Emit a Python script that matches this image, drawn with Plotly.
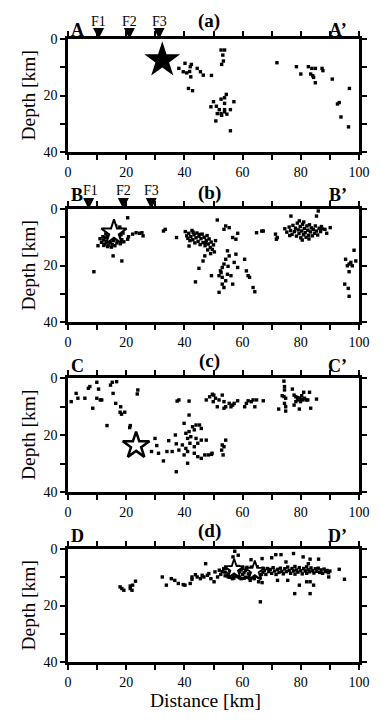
import plotly.graph_objects as go

# ---------------- data (distance km, depth km) ----------------
a_points = [(38.1,10.4),(39.6,11.6),(40.8,12.0),(41.8,11.5),(42.0,9.8),(42.4,9.0),(40.2,8.6),
            (42.2,13.4),(44.4,10.4),(45.5,11.6),(46.5,12.8),(49.3,12.9),(41.4,17.5),(42.8,18.3),
            (52.6,3.9),(53.8,3.9),(53.2,5.7),(53.4,7.8),(52.8,9.0),
            (54.4,19.6),(53.8,20.8),(52.6,21.3),(53.8,22.8),(57.0,22.2),(50.0,22.2),(51.0,23.8),
            (49.1,24.0),(52.0,25.0),(53.8,25.0),(55.8,25.0),(51.3,26.4),(52.6,26.4),(53.8,25.8),
            (52.8,27.0),(54.6,26.6),(50.8,29.0),(55.8,32.5),
            (71.8,8.4),(78.5,9.8),(80.0,12.4),(82.6,9.8),(83.8,10.4),(85.0,10.4),(83.4,12.4),
            (84.1,13.0),(84.4,13.6),(85.0,15.5),(87.3,10.4),(87.6,11.2),(90.8,14.2),(96.7,17.5),
            (92.6,23.0),(93.2,22.5),(93.8,27.6),(96.4,31.1)]
a_stars = [(32.4,7.5)]

b_points = [(11.0,10.5),(11.5,11.8),(12.0,9.8),(12.2,11.0),(12.6,12.4),(12.8,10.2),(13.0,8.8),
            (13.3,11.5),(13.5,9.6),(13.8,12.8),(14.0,10.8),(14.2,8.2),(14.5,11.9),(14.7,9.3),
            (15.0,10.4),(15.2,12.6),(15.4,7.6),(15.6,11.2),(15.9,9.0),(16.1,13.0),(16.3,10.6),
            (16.5,8.4),(16.8,12.0),(17.0,9.8),(17.2,11.4),(17.5,7.9),(17.7,10.2),(18.0,12.3),
            (18.2,9.1),(18.5,10.9),(18.9,8.5),(19.2,11.6),(13.6,13.3),(14.9,13.5),(16.4,6.0),
            (17.8,6.4),(10.3,13.0),(12.3,12.9),
            (20.5,10.7),(20.8,9.8),(22.2,8.9),(23.4,8.4),(24.6,8.6),(25.4,8.4),(25.8,9.5),
            (20.5,3.1),(15.5,16.6),(18.5,18.4),(8.9,22.2),(32.8,7.8),(33.4,7.2),(37.3,10.1),
            (40.3,8.0),(40.8,9.5),(41.2,10.4),(41.5,8.6),(41.9,11.2),(42.2,9.8),(42.6,7.6),
            (42.9,10.9),(43.3,9.1),(43.6,12.0),(44.0,10.2),(44.3,8.5),(44.7,11.5),(45.0,9.6),
            (45.4,12.6),(45.7,10.5),(46.1,8.9),(46.4,11.9),(46.8,10.0),(47.1,13.0),(47.5,11.1),
            (47.8,9.4),(48.2,12.4),(48.5,10.6),(48.9,13.6),(49.2,11.7),(49.6,14.3),(50.0,12.7),
            (50.3,15.2),(49.0,15.8),(48.0,14.5),(43.0,8.2),(45.2,9.0),(47.3,12.0),(50.7,11.2),
            (47.0,16.6),(46.4,18.4),(45.0,21.0),(43.8,25.8),(49.3,23.6),(41.6,13.1),
            (51.3,3.9),(54.2,6.0),(55.4,6.6),(53.6,7.2),(56.6,10.1),(57.7,10.7),(58.3,8.6),
            (54.8,14.8),(55.4,16.6),(57.7,16.0),(54.2,17.8),(53.6,19.5),(53.0,20.7),(52.4,21.9),
            (57.1,18.9),(58.3,20.7),(60.7,17.8),(61.3,21.9),(61.9,23.6),(62.4,24.2),(51.9,23.6),
            (53.0,24.2),(54.8,23.1),(56.0,23.6),(54.2,25.4),(53.0,26.6),(56.6,26.6),(53.6,27.8),
            (51.9,29.5),(63.6,27.8),(64.2,29.3),(52.6,22.5),(55.0,20.3),
            (64.8,8.4),(66.6,7.8),(67.1,7.8),(71.3,8.9),(71.9,10.1),(71.6,10.7),
            (74.5,7.0),(75.2,8.2),(76.0,6.4),(76.5,7.6),(77.0,9.0),(77.3,5.8),(77.8,8.0),
            (78.2,6.8),(78.5,9.6),(78.8,5.0),(79.1,7.4),(79.4,8.7),(79.8,6.2),(80.0,10.2),
            (80.3,7.8),(80.6,5.4),(80.9,9.1),(81.2,6.9),(81.5,8.4),(81.8,10.0),(82.1,6.0),
            (82.4,7.5),(82.7,9.3),(83.0,5.6),(83.3,8.1),(83.6,6.7),(84.0,9.5),(84.3,7.2),
            (84.7,8.6),(85.0,6.0),(85.4,7.8),(85.8,9.2),(86.3,6.8),(86.8,8.0),(87.3,7.0),
            (79.5,4.2),(81.0,4.6),(76.2,9.4),(82.8,10.6),(80.5,11.0),
            (76.6,2.5),(85.4,2.5),(86.0,0.7),(87.1,6.2),(88.3,7.2),(90.1,6.6),(88.9,8.6),
            (98.3,14.6),(95.4,17.8),(96.6,19.5),(97.7,20.1),(98.9,18.4),(96.0,20.1),(97.2,18.9),
            (96.6,22.2),(95.1,26.6),(96.3,28.1),(96.6,30.9)]
b_stars = [(15.8,8.4)]

c_points = [(1.1,8.3),(2.8,5.4),(3.4,7.1),(5.8,7.1),(7.0,3.6),(7.5,3.0),(9.9,1.5),(10.5,3.9),
            (9.9,7.1),(11.1,7.7),(11.6,7.7),(8.5,10.6),(14.6,2.5),(15.2,1.5),(16.7,1.3),
            (15.5,5.4),(16.4,8.9),(18.1,10.1),(17.9,12.0),(18.4,12.7),(19.5,12.0),(13.4,16.7),
            (21.4,16.7),(21.2,17.4),(24.0,4.2),(23.8,5.6),
            (29.9,21.2),(28.7,25.8),(30.5,23.7),(31.1,26.4),(32.8,29.1),(34.0,25.8),(34.6,22.0),
            (35.8,25.8),(36.9,20.0),(37.2,23.1),(38.1,25.3),(37.5,8.1),(38.1,7.7),(41.6,8.1),
            (39.9,15.9),(41.6,13.0),(40.5,19.4),(41.6,18.8),(42.8,17.1),(44.0,16.5),(45.2,16.5),
            (43.4,18.2),(45.8,17.7),(41.1,21.2),(42.2,20.6),(44.0,21.2),(39.3,23.5),(40.5,24.7),
            (41.9,22.9),(43.4,24.1),(44.6,22.9),(45.8,21.8),(39.9,27.0),(41.1,25.8),(43.4,26.4),
            (44.6,27.6),(45.8,28.2),(41.1,29.9),(37.2,32.9),(47.0,27.0),(48.2,27.0),(49.3,26.8),
            (47.5,21.8),(47.5,7.7),(48.7,6.6),(49.9,8.3),(49.6,5.7),
            (50.1,6.0),(50.7,7.1),(51.3,10.1),(51.9,7.7),(53.0,6.0),(53.6,8.3),(53.6,10.6),
            (54.2,10.1),(55.4,8.9),(56.0,10.1),(56.6,9.5),(57.1,8.9),(58.3,8.0),(60.7,10.1),
            (61.3,8.9),(61.9,8.0),(63.0,8.3),(63.6,7.7),(64.2,10.1),(64.8,7.7),(67.1,8.0),
            (72.4,10.9),(74.2,1.1),(74.4,3.0),(74.4,4.2),(74.2,6.5),(73.6,6.2),(74.8,7.1),
            (74.4,8.9),(74.8,10.1),(74.8,11.6),(77.1,3.9),(77.7,6.0),(78.3,6.6),(78.9,6.9),
            (79.5,7.1),(80.1,7.4),(80.7,7.7),(81.3,7.1),(81.9,7.7),(78.9,7.7),(77.7,9.5),
            (79.5,10.9),(81.0,5.0),(83.0,5.0),(82.4,7.7),(83.4,10.6),(85.4,7.4),(78.3,8.3),
            (80.3,6.2),(79.9,8.3),
            (54.2,21.8),(53.0,23.5),(53.6,24.1),(52.8,25.3),(53.3,27.0),(49.5,26.4)]
c_stars = [(23.4,23.7)]

d_points = [(17.9,13.4),(18.5,14.0),(19.2,14.6),(21.4,14.0),(22.0,14.6),(21.4,13.1),(23.2,11.4),
            (22.2,12.8),(32.4,9.9),(33.8,12.8),(35.5,10.5),(36.7,11.1),(37.9,12.2),(39.6,12.6),
            (40.2,12.8),(42.0,12.2),(42.6,9.9),(42.6,10.7),(43.8,9.1),(44.4,9.9),(45.5,10.5),
            (46.1,9.3),(46.7,9.9),(47.3,5.2),(47.9,9.3),(48.4,8.7),(49.1,10.5),(50.2,11.6),
            (50.5,8.1),(51.4,9.9),
            (52.0,7.5),(52.5,9.0),(53.0,8.0),(53.5,7.0),(54.0,9.5),(54.0,8.2),(54.5,6.8),
            (55.0,8.8),(55.5,7.6),(55.5,10.0),(56.0,6.5),(56.0,9.2),(56.5,8.0),(57.0,5.8),
            (57.0,10.3),(57.5,8.6),(58.0,7.0),(58.0,9.6),(58.5,6.2),(59.0,8.1),(59.0,10.2),
            (59.5,7.3),(60.0,9.0),(60.0,6.8),(60.5,8.4),(61.0,7.6),(61.0,10.0),(61.5,6.5),
            (62.0,8.8),(62.0,7.2),(62.5,9.6),(63.0,6.4),(63.0,8.1),(63.5,10.2),(64.0,7.0),
            (64.5,9.2),(65.0,6.3),(65.0,8.5),(65.5,10.0),(66.0,7.4),(66.5,9.0),(67.0,6.8),
            (67.0,8.2),(67.5,7.6),(68.0,9.0),(68.5,6.9),(69.0,8.0),(69.5,7.2),(70.0,8.6),
            (70.5,6.6),(71.0,7.8),(71.5,9.0),(72.0,7.2),(72.5,8.3),(73.0,6.8),(73.5,7.9),
            (74.0,8.8),(74.5,7.0),(75.0,8.0),(75.5,6.4),(76.0,7.6),(76.5,8.6),(77.0,6.9),
            (77.5,7.8),(78.0,6.2),(78.0,8.9),(78.5,7.4),(79.0,8.2),(79.5,6.6),(80.0,7.7),
            (80.5,8.8),(81.0,6.9),(81.5,7.8),(82.0,6.3),(82.0,8.6),(82.5,7.3),(83.0,8.1),
            (83.5,6.7),(84.0,7.7),(84.5,8.5),(85.0,7.0),(85.5,7.9),(86.0,6.8),(86.5,8.3),
            (87.0,7.4),(87.5,8.6),(88.0,7.1),(88.5,8.0),(89.0,7.6),(89.5,8.4),(90.0,7.8),
            (55.0,9.8),(56.5,10.5),(58.5,9.9),(60.5,10.4),(62.0,10.1),(64.0,10.5),(65.0,9.7),
            (66.0,10.2),(57.0,9.5),(59.5,10.5),
            (57.3,0.8),(58.5,2.2),(56.7,2.8),(62.9,3.8),(66.7,3.4),(70.0,3.1),(71.4,2.0),
            (73.2,2.0),(77.5,1.6),(80.8,2.8),(83.2,3.6),(86.1,3.6),(93.2,7.2),(95.0,10.7),
            (89.6,9.9),(79.5,12.8),(77.9,15.8),(83.2,15.8),(82.0,11.6),(83.2,11.6),(84.4,12.8),
            (75.5,11.1),(72.0,11.1),(65.5,11.6),(66.7,11.9),(62.6,11.1),(66.1,18.7),(74.9,4.6),
            (82.6,5.2)]
d_stars = [(57.1,7.2),(64.2,7.8)]

panel_tags = ["(a)", "(b)", "(c)", "(d)"]
left_labels = ["A", "B", "C", "D"]
right_labels = ["A\u2019", "B\u2019", "C\u2019", "D\u2019"]
faults = ["F1", "F2", "F3"]
faults_a = [10.5, 21.1, 31.3]
faults_b = [7.1, 19.0, 28.6]
x_ticks = [0, 20, 40, 60, 80, 100]
y_ticks = [0, 20, 40]

# ---------------- layout geometry ----------------
# the page body has an 8px default margin, so the figure is drawn 8px in from the window corner
OFF = 8
W, H = 382 - OFF, 724 - OFF
L, R = 68 - OFF, 31 - OFF

def py(p):  # window pixel y -> paper fraction
    return 1 - (p - OFF) / H

def px(p):  # window pixel x -> paper fraction
    return (p - OFF - L) / (W - L - R)

panel_px = [(39, 152), (209, 322), (378, 492), (549, 662)]

FONT = "Liberation Serif, Times New Roman, serif"

fig = go.Figure()
points_all = [a_points, b_points, c_points, d_points]
stars_all = [a_stars, b_stars, c_stars, d_stars]
star_style = [dict(size=27, color="black", line=dict(width=0)),
              dict(size=19, color="white", line=dict(width=2, color="black")),
              dict(size=20, color="white", line=dict(width=2.5, color="black")),
              dict(size=15, color="white", line=dict(width=1.8, color="black"))]

for i in range(4):
    xa = "x" if i == 0 else f"x{i+1}"
    ya = "y" if i == 0 else f"y{i+1}"
    pts = points_all[i]
    fig.add_trace(go.Scatter(x=[p[0] for p in pts], y=[p[1] for p in pts], mode="markers",
                             marker=dict(symbol="square", size=3.4, color="black", line=dict(width=0)),
                             xaxis=xa, yaxis=ya, showlegend=False, hoverinfo="skip"))
    st = stars_all[i]
    fig.add_trace(go.Scatter(x=[p[0] for p in st], y=[p[1] for p in st], mode="markers",
                             marker=dict(symbol="star", **star_style[i]),
                             xaxis=xa, yaxis=ya, showlegend=False, hoverinfo="skip"))

axis_common = dict(showline=True, linewidth=2.5, linecolor="black", mirror="allticks",
                   ticks="outside", ticklen=5, tickwidth=2, tickcolor="black",
                   showgrid=False, zeroline=False, automargin=False,
                   tickfont=dict(family=FONT, size=14, color="black"),
                   minor=dict(dtick=10, ticks="outside", ticklen=5, tickwidth=2, tickcolor="black", showgrid=False))

layout = dict(template="none", width=W, height=H, margin=dict(l=L, r=R, t=0, b=0, pad=0, autoexpand=False),
              paper_bgcolor="white", plot_bgcolor="white", showlegend=False)
for i, (top, bot) in enumerate(panel_px):
    xk = "xaxis" if i == 0 else f"xaxis{i+1}"
    yk = "yaxis" if i == 0 else f"yaxis{i+1}"
    ya = "y" if i == 0 else f"y{i+1}"
    xa = "x" if i == 0 else f"x{i+1}"
    layout[xk] = dict(axis_common, range=[0, 100], tickvals=x_ticks, anchor=ya, domain=[0, 1])
    layout[yk] = dict(axis_common, range=[40, 0], tickvals=y_ticks, anchor=xa,
                      domain=[py(bot), py(top)])
fig.update_layout(**layout)

ann = []
label_y = [30, 195, 366, 536]
tag_y = [20.5, 193, 361, 531]
for i, (top, bot) in enumerate(panel_px):
    ann.append(dict(x=px(68.5), y=py(label_y[i]), xref="paper", yref="paper", text=f"<b>{left_labels[i]}</b>",
                    showarrow=False, xanchor="left", yanchor="middle",
                    font=dict(family=FONT, size=18, color="black")))
    ann.append(dict(x=px(349), y=py(label_y[i]), xref="paper", yref="paper", text=f"<b>{right_labels[i]}</b>",
                    showarrow=False, xanchor="right", yanchor="middle",
                    font=dict(family=FONT, size=18, color="black")))
    ann.append(dict(x=px(209), y=py(tag_y[i]), xref="paper", yref="paper", text=f"<b>{panel_tags[i]}</b>",
                    showarrow=False, xanchor="center", yanchor="middle",
                    font=dict(family=FONT, size=19, color="black")))
    ann.append(dict(x=px(28), y=py((top + bot) / 2), xref="paper", yref="paper", text="Depth [km]",
                    textangle=-90, showarrow=False, xanchor="center", yanchor="middle",
                    font=dict(family=FONT, size=19.5, color="black")))

for fx_list, xa, ya, ly in [(faults_a, "x", "y", 21.5), (faults_b, "x2", "y2", 190)]:
    for k, (name, fx) in enumerate(zip(faults, fx_list)):
        ann.append(dict(x=fx, y=0, xref=xa, yref=ya, ax=0, ay=-12, axref="pixel", ayref="pixel",
                        text="", showarrow=True, arrowhead=2, arrowsize=1.1, arrowwidth=2,
                        arrowcolor="black"))
        ann.append(dict(x=fx, y=py(ly), xref=xa, yref="paper", text=name, showarrow=False,
                        xanchor="center", yanchor="middle", xshift=2 if (xa == "x2" and k == 0) else 0,
                        font=dict(family=FONT, size=14, color="black")))

ann.append(dict(x=px(205), y=py(700), xref="paper", yref="paper", text="Distance [km]",
                showarrow=False, xanchor="center", yanchor="middle",
                font=dict(family=FONT, size=19.5, color="black")))
fig.update_layout(annotations=ann)

fig.write_html("out.html")
